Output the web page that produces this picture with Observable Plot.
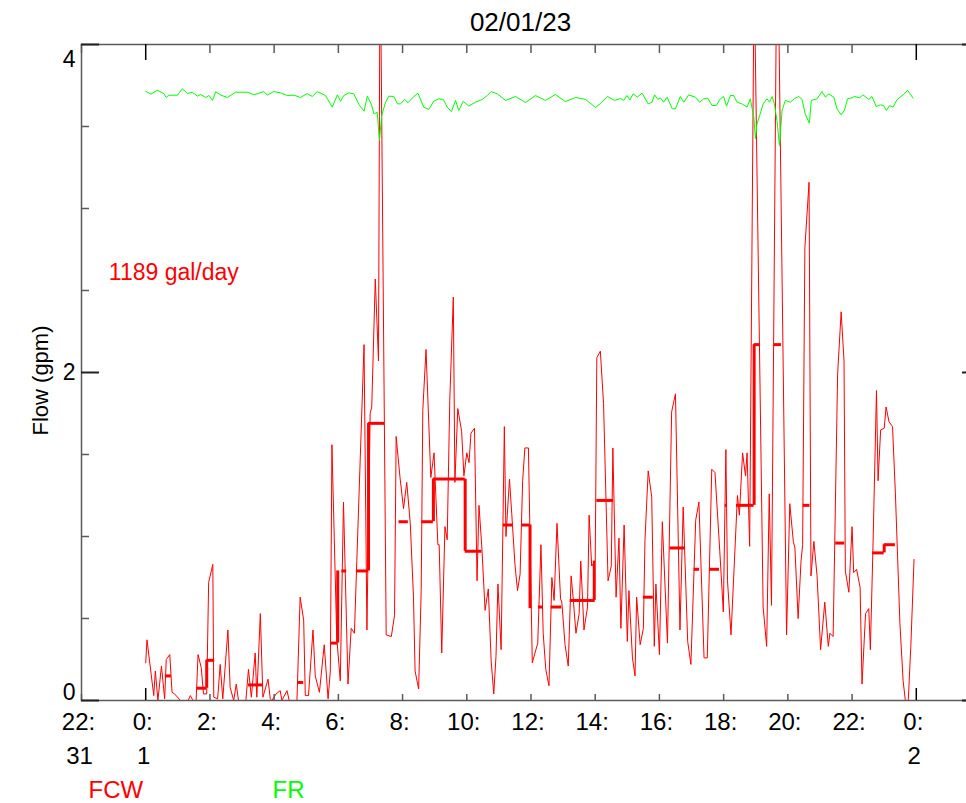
<!DOCTYPE html>
<html><head><meta charset="utf-8">
<script src="https://cdn.jsdelivr.net/npm/d3@7"></script>
<script src="https://cdn.jsdelivr.net/npm/@observablehq/plot@0.6"></script>
<style>
html,body{margin:0;padding:0;background:#fff;overflow:hidden;}
#chart{width:966px;height:803px;overflow:hidden;position:relative;}
#chart svg{display:block;max-width:none !important;width:990px;height:803px;}
</style></head><body><div id="chart"></div>
<script>
// ---- Data (hours since 00:00 on 02/01/23, flow in gpm) ----
const fcwTime = [0.00,0.04,0.25,0.30,0.38,0.49,0.59,0.64,0.75,0.82,0.90,1.08,1.32,1.39,1.47,1.57,1.63,1.73,1.80,1.90,1.96,2.09,2.12,2.24,2.32,2.40,2.56,2.63,2.74,2.82,2.89,3.12,3.20,3.29,3.41,3.46,3.57,3.65,3.81,3.88,
3.93,4.06,4.19,4.24,4.40,4.47,4.60,4.71,4.81,4.92,4.97,5.07,5.21,5.28,5.41,5.56,5.68,5.75,5.80,5.95,6.06,6.16,6.30,6.40,6.50,6.80,6.89,6.99,7.04,7.15,7.25,7.30,7.49,7.65,7.75,7.80,7.92,
8.03,8.13,8.24,8.34,8.39,8.50,8.58,8.63,8.73,8.88,8.98,9.10,9.14,9.22,9.32,9.39,9.47,9.58,9.63,9.72,9.84,9.91,10.00,10.07,10.13,10.24,10.32,10.38,10.47,10.57,10.67,10.76,10.84,10.91,10.97,11.07,11.17,11.22,11.33,11.40,11.50,11.58,11.66,11.74,11.81,11.92,
12.04,12.21,12.31,12.38,12.46,12.56,12.65,12.72,12.81,12.92,12.96,13.06,13.16,13.25,13.32,13.40,13.50,13.55,13.65,13.76,13.81,13.89,14.00,14.05,14.16,14.26,14.40,14.50,14.55,14.65,14.74,14.80,14.90,15.00,15.05,15.16,15.24,15.29,15.40,15.50,15.55,15.65,15.76,15.84,15.89,16.00,16.09,
16.25,16.38,16.50,16.64,16.74,16.88,16.98,17.13,17.23,17.39,17.49,17.63,17.73,17.88,17.99,18.07,18.12,18.23,18.43,18.49,18.59,18.68,18.73,18.81,18.95,19.23,19.34,19.42,19.49,19.67,19.96,
20.06,20.17,20.22,20.32,20.41,20.46,20.53,20.66,20.72,20.81,20.91,21.02,21.15,21.26,21.31,21.41,21.55,21.66,21.75,21.79,21.90,22.00,22.05,22.14,22.25,22.31,22.42,22.52,22.57,22.65,22.76,22.81,22.89,23.00,23.06,23.15,23.26,23.35,23.49,23.59,23.66,23.75,23.83,23.93];
const fcwFlow = [0.23,0.37,0.03,0.18,0.00,0.21,0.01,0.25,0.28,0.05,0.04,0.00,0.00,0.03,0.00,0.00,0.28,0.20,0.04,0.04,0.72,0.83,0.02,0.01,0.22,0.01,0.43,0.08,0.00,0.10,0.00,0.00,0.19,0.02,0.29,0.02,0.53,0.02,0.13,0.01,
0.00,0.04,0.06,0.00,0.06,0.00,0.00,0.00,0.63,0.49,0.03,0.03,0.43,0.15,0.05,0.34,0.01,0.18,1.56,0.38,0.12,1.21,0.10,0.44,0.41,2.17,0.43,1.75,1.79,2.57,2.07,4.70,0.40,0.39,0.52,1.61,1.36,
1.17,1.33,1.08,0.63,0.18,0.07,0.67,1.77,2.14,1.36,1.51,0.95,0.95,0.29,1.06,0.98,1.83,2.46,1.33,1.78,1.64,1.37,1.51,1.45,1.63,1.66,0.73,1.19,0.93,0.55,0.68,0.24,0.04,0.27,0.71,0.31,1.67,1.00,1.35,1.14,0.83,0.67,0.77,1.34,1.54,1.54,
0.23,0.35,0.95,0.41,0.19,0.09,0.75,0.61,1.08,0.62,0.60,0.34,0.21,0.76,0.61,0.41,0.53,0.85,0.43,0.57,1.13,0.82,0.85,2.09,2.13,1.81,0.73,0.82,1.54,0.63,0.99,0.44,1.07,0.36,0.67,0.26,0.15,0.63,0.34,0.44,0.98,1.40,1.24,0.33,0.71,0.28,1.09,
0.35,1.76,1.87,0.43,1.18,0.36,0.22,1.10,1.21,0.26,0.26,1.41,1.39,0.91,0.54,1.53,0.73,0.40,1.25,1.13,1.51,1.37,1.51,0.94,4.46,0.57,0.33,1.26,0.58,4.90,0.40,
1.20,0.97,0.93,0.50,0.85,0.95,2.76,3.16,0.76,0.97,0.76,0.31,0.60,0.33,0.41,0.39,1.99,2.37,2.07,0.79,0.66,1.06,0.78,0.80,0.69,0.10,0.53,0.56,0.31,0.93,1.89,1.34,1.65,1.66,1.79,1.70,1.67,1.26,0.47,0.12,0.00,0.00,0.33,0.86];

const frTime = [0.00,0.16,0.36,0.56,0.64,0.72,0.99,1.14,1.30,1.45,1.61,1.71,1.87,1.97,2.08,2.18,2.34,2.54,2.80,3.17,3.37,3.68,3.79,3.99,4.20,4.41,4.62,4.82,5.03,5.19,5.34,5.60,5.81,5.97,6.07,6.17,6.33,6.48,6.64,6.80,6.90,7.03,7.11,7.21,7.28,7.35,7.47,7.57,7.73,7.84,7.94,
8.06,8.17,8.35,8.48,8.66,8.82,8.97,9.13,9.27,9.39,9.52,9.65,9.75,9.89,10.06,10.27,10.48,10.64,10.76,10.95,11.21,11.52,11.83,12.14,12.45,12.76,13.07,13.39,13.70,14.01,14.16,14.38,14.60,14.79,14.89,14.99,15.08,15.18,15.31,15.46,15.65,15.77,15.85,15.95,
16.03,16.13,16.24,16.40,16.50,16.65,16.76,16.91,17.12,17.25,17.38,17.50,17.64,17.77,17.90,18.00,18.09,18.21,18.31,18.42,18.57,18.73,18.83,18.94,18.99,19.04,19.14,19.23,19.35,19.43,19.51,19.58,19.66,19.74,19.82,19.92,
20.08,20.20,20.34,20.44,20.54,20.67,20.73,20.91,21.06,21.17,21.27,21.43,21.53,21.66,21.76,21.86,22.00,22.07,22.24,22.34,22.52,22.62,22.75,22.88,22.98,23.07,23.17,23.27,23.40,23.59,23.73,23.81,23.90];
const frFlow = [3.715,3.697,3.721,3.701,3.677,3.691,3.691,3.730,3.701,3.709,3.685,3.695,3.677,3.689,3.659,3.712,3.691,3.677,3.709,3.709,3.693,3.713,3.691,3.713,3.705,3.689,3.691,3.677,3.701,3.683,3.713,3.689,3.618,3.693,3.654,3.689,3.705,3.699,3.634,3.593,3.685,3.634,3.577,3.587,3.415,3.567,3.648,3.685,3.683,3.638,3.638,
3.665,3.645,3.683,3.703,3.618,3.604,3.654,3.669,3.665,3.618,3.591,3.659,3.598,3.654,3.624,3.648,3.665,3.689,3.713,3.699,3.659,3.683,3.646,3.689,3.659,3.695,3.652,3.677,3.665,3.616,3.640,3.683,3.659,3.671,3.659,3.689,3.662,3.699,3.679,3.703,3.638,3.648,3.693,3.665,
3.675,3.648,3.679,3.608,3.608,3.683,3.648,3.693,3.679,3.648,3.669,3.673,3.628,3.628,3.669,3.683,3.624,3.689,3.689,3.648,3.638,3.618,3.669,3.557,3.425,3.516,3.577,3.638,3.669,3.648,3.683,3.638,3.537,3.384,3.598,3.659,
3.648,3.669,3.683,3.665,3.577,3.520,3.659,3.669,3.713,3.679,3.699,3.679,3.608,3.571,3.598,3.669,3.675,3.683,3.675,3.693,3.665,3.683,3.622,3.632,3.628,3.598,3.628,3.618,3.663,3.693,3.720,3.699,3.673];

// hourly-average step segments (thick red)
const avgStart = [0.61,1.60,1.90,3.20,4.74,5.77,6.11,6.56,6.94,7.89,8.60,8.96,9.95,11.14,11.73,12.23,12.63,13.22,14.05,15.50,16.33,17.08,17.56,18.05,18.40,18.95,19.58,20.48,21.49,22.64,23.00];
const avgEnd   = [0.80,1.90,2.15,3.64,4.92,5.98,6.26,6.94,7.44,8.18,8.96,9.95,10.47,11.43,11.97,12.38,12.96,14.00,14.57,15.81,16.79,17.25,17.87,18.12,18.95,19.14,19.80,20.69,21.77,23.00,23.35];
const avgFlow  = [0.15,0.075,0.245,0.095,0.11,0.35,0.79,0.79,1.69,1.09,1.09,1.35,0.91,1.07,1.07,0.57,0.57,0.61,1.22,0.63,0.93,0.80,0.80,1.19,1.19,2.17,2.17,1.19,0.96,0.90,0.95];
const riseTime = [1.90,5.98,6.94,8.96,9.95,11.97,13.97,18.95,23.00];
const riseFrom = [0.075,0.35,0.79,1.09,1.35,1.07,0.61,1.19,0.90];
const riseTo   = [0.245,0.79,1.69,1.35,0.91,0.56,0.85,2.17,0.95];

// axis ticks and labels
const hourTicks = [-2,0,2,4,6,8,10,12,14,16,18,20,22,24,26];
const dayTicks = [0,24];
const hourLabels = ["22:","0:","2:","4:","6:","8:","10:","12:","14:","16:","18:","20:","22:","0:"];
const dayLabelHours = [-2,0,24];
const dayLabels = ["31","1","2"];
const flowTicks = [0,0.5,1,1.5,2,2.5,3,3.5,4];
const flowMajor = [0,2,4];
const flowLabels = ["0","2","4"];

const title = "02/01/23";
const yTitle = "Flow (gpm)";
const note = "1189 gal/day";
const seriesNames = ["FCW","FR"];
const seriesColors = ["#ff0000","#00ff00"];

// ---- build ----
const fcw = fcwTime.map((h,i)=>({h, v: fcwFlow[i]}));
const fr = frTime.map((h,i)=>({h, v: frFlow[i]}));
const avg = avgStart.map((h1,i)=>({h1, h2: avgEnd[i], v: avgFlow[i]}));
const rises = riseTime.map((h,i)=>({h, v1: riseFrom[i], v2: riseTo[i]}));
const hourLab = hourLabels.map((t,i)=>({h: hourTicks[i], t}));
const dayLab = dayLabels.map((t,i)=>({h: dayLabelHours[i], t}));
const minorHours = hourTicks.filter(h=>!dayTicks.includes(h));
const minorFlow = flowTicks.filter(v=>!flowMajor.includes(v));

const W = 990, H = 803, ml = 81, mr = 10, mt = 44, mb = 103;
const fw = W - ml - mr, fh = H - mt - mb;
const FONT = "'Liberation Sans', Arial, sans-serif";
const axisCol = "#5a5a5a";

const yLabelOffsets = {0: -8, 2: 0, 4: 15};

const chart = Plot.plot({
  width: W, height: H,
  marginLeft: ml, marginRight: mr, marginTop: mt, marginBottom: mb,
  style: {fontFamily: FONT, background: "#fff", overflow: "visible", maxWidth: "none"},
  x: {domain: [-2, 26], axis: null},
  y: {domain: [0, 4], axis: null},
  marks: [
    // data
    Plot.line(fcw, {x: "h", y: "v", stroke: seriesColors[0], strokeWidth: 1, clip: true}),
    Plot.ruleY(avg, {y: "v", x1: "h1", x2: "h2", stroke: seriesColors[0], strokeWidth: 3, clip: true}),
    Plot.ruleX(rises, {x: "h", y1: "v1", y2: "v2", stroke: seriesColors[0], strokeWidth: 3, clip: true}),
    Plot.line(fr, {x: "h", y: "v", stroke: seriesColors[1], strokeWidth: 1, clip: true}),
    // frame
    Plot.frame({stroke: axisCol, strokeWidth: 1.5}),
    // x ticks (top inward, bottom inward)
    Plot.tickX(minorHours, {x: d=>d, stroke: axisCol, strokeWidth: 1.5, insetBottom: fh - 9}),
    Plot.tickX(minorHours, {x: d=>d, stroke: axisCol, strokeWidth: 1.5, insetTop: fh - 6}),
    Plot.tickX(dayTicks, {x: d=>d, stroke: "#000", strokeWidth: 1.5, insetBottom: fh - 16}),
    Plot.tickX(dayTicks, {x: d=>d, stroke: "#000", strokeWidth: 1.5, insetTop: fh - 12}),
    // y ticks (left and right, inward)
    Plot.tickY(minorFlow, {y: d=>d, stroke: axisCol, strokeWidth: 1.5, insetRight: fw - 8}),
    Plot.tickY(minorFlow, {y: d=>d, stroke: axisCol, strokeWidth: 1.5, insetLeft: fw - 8}),
    Plot.tickY(flowMajor, {y: d=>d, stroke: "#222", strokeWidth: 2, insetRight: fw - 18}),
    Plot.tickY(flowMajor, {y: d=>d, stroke: "#222", strokeWidth: 2, insetLeft: fw - 18}),
    // x tick labels
    Plot.text(hourLab, {x: "h", text: "t", frameAnchor: "bottom", dy: 22, dx: -3, lineAnchor: "middle", fontSize: 24, fill: "#000"}),
    Plot.text(dayLab, {x: "h", text: "t", frameAnchor: "bottom", dy: 56, dx: -2, lineAnchor: "middle", fontSize: 24, fill: "#000"}),
    // y tick labels
    ...flowMajor.map((v,i)=>Plot.text([flowLabels[i]], {y: [v], text: d=>d, frameAnchor: "left", textAnchor: "end", dx: -6, dy: yLabelOffsets[v], lineAnchor: "middle", fontSize: 23, fill: "#000"})),
    // titles and annotations
    Plot.text([title], {text: d=>d, frameAnchor: "top-left", dx: 439, dy: -22, textAnchor: "middle", lineAnchor: "middle", fontSize: 26, fill: "#000"}),
    Plot.text([yTitle], {text: d=>d, frameAnchor: "left", dx: -41, dy: 8, rotate: -90, textAnchor: "middle", lineAnchor: "middle", fontSize: 22, fill: "#000"}),
    Plot.text([note], {x: [-1.15], y: [2.61], text: d=>d, textAnchor: "start", lineAnchor: "middle", fontSize: 23, fill: seriesColors[0]}),
    // legend
    Plot.text([seriesNames[0]], {text: d=>d, frameAnchor: "bottom-left", dx: 7, dy: 97, textAnchor: "start", lineAnchor: "bottom", fontSize: 24, fill: seriesColors[0]}),
    Plot.text([seriesNames[1]], {text: d=>d, frameAnchor: "bottom-left", dx: 191, dy: 97, textAnchor: "start", lineAnchor: "bottom", fontSize: 24, fill: seriesColors[1]})
  ]
});
document.getElementById("chart").appendChild(chart);
</script></body></html>
